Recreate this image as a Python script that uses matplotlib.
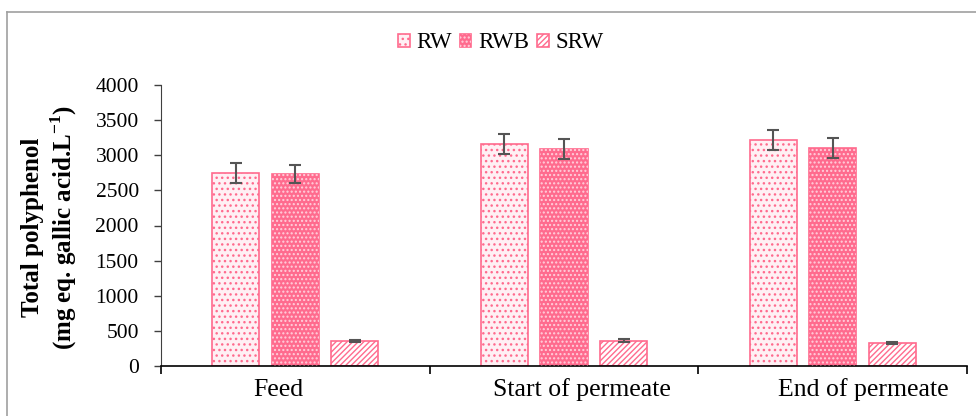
import matplotlib
matplotlib.use("Agg")
import matplotlib.pyplot as plt
import numpy as np
from matplotlib.lines import Line2D
from matplotlib.legend_handler import HandlerTuple

plt.rcParams['font.family'] = ['Liberation Serif', 'DejaVu Serif']
plt.rcParams['mathtext.fontset'] = 'custom'
plt.rcParams['mathtext.rm'] = 'Liberation Serif:bold'
plt.rcParams['mathtext.bf'] = 'Liberation Serif:bold'
plt.rcParams['hatch.linewidth'] = 1.0

categories = ["Feed", "Start of permeate", "End of permeate"]
series = ["RW", "RWB", "SRW"]
rw = [2752, 3160, 3220]
rw_err = [140, 140, 140]
rwb = [2735, 3090, 3100]
rwb_err = [130, 140, 140]
srw = [355, 360, 330]
srw_err = [20, 18, 15]
yticks = [0, 500, 1000, 1500, 2000, 2500, 3000, 3500, 4000]

pink = '#FF6B8E'
errc = '#555555'

fig = plt.figure(figsize=(9.76, 4.16), dpi=100)
ax = fig.add_axes([161/976, 50/416, 806/976, 281/416])

x = np.arange(len(categories)) + 0.5
step = 0.222
w = 0.175
ek = dict(ecolor=errc, elinewidth=1.5, capsize=4, capthick=1.5)

b1 = ax.bar(x - step, rw, w, facecolor='#FFF0F4', edgecolor=pink, hatch='...', linewidth=1.2,
            yerr=rw_err, error_kw=ek, zorder=2)
b2a = ax.bar(x, rwb, w, facecolor=pink, edgecolor=pink, linewidth=1.2, zorder=2)
b2b = ax.bar(x, rwb, w, facecolor='none', edgecolor='#FFD0DC', hatch='....', linewidth=0,
             yerr=rwb_err, error_kw=ek, zorder=3)
b3 = ax.bar(x + step, srw, w, facecolor='white', edgecolor=pink, hatch='//////', linewidth=1.2,
            yerr=srw_err, error_kw=ek, zorder=2)

ax.set_xlim(0, 3)
ax.set_ylim(0, 4000)
ax.set_yticks(yticks)
ax.set_yticklabels([str(v) for v in yticks])
ax.tick_params(axis='y', direction='out', length=5, width=1, pad=11, labelsize=15.5, colors='#404040',
               labelcolor='black')
ax.set_xticks([0, 1, 2, 3])
ax.set_xticklabels([])
label_pos = [0.5 - 17/268.7, 1.5 + 18/268.7, 2.5 + 31/268.7]
ax.set_xticks(label_pos, minor=True)
ax.set_xticklabels(categories, minor=True)
ax.tick_params(axis='x', which='major', direction='out', length=6, width=1.2)
ax.tick_params(axis='x', which='minor', length=0, pad=9, labelsize=18.5)
for s in ['top', 'right']:
    ax.spines[s].set_visible(False)
ax.spines['left'].set_color('#404040')
ax.spines['bottom'].set_color('black')
ax.spines['bottom'].set_linewidth(1.2)

fig.text(33/976, 1 - 227/416, "Total polyphenol", rotation=90, ha='center', va='center',
         fontsize=18, fontweight='bold')
fig.text(64/976, 1 - 228/416, r"(mg eq. gallic acid.L$^{-1}$)", rotation=90, ha='center', va='center',
         fontsize=18, fontweight='bold')

handles = [b1.patches[0], (b2a.patches[0], b2b.patches[0]), b3.patches[0]]
leg = fig.legend(handles, series, loc='center', bbox_to_anchor=(501/976, 1 - 43/416), ncol=3,
                 frameon=False, fontsize=16.5, handlelength=0.5, handleheight=0.5,
                 handletextpad=0.3, columnspacing=0.35,
                 handler_map={tuple: HandlerTuple(ndivide=1, pad=0)})

# outer frame lines
fig.add_artist(Line2D([7/976, 7/976], [0, 1 - 12/416], color='#A0A0A0', lw=1.2,
                      transform=fig.transFigure))
fig.add_artist(Line2D([7/976, 1], [1 - 12/416, 1 - 12/416], color='#A0A0A0', lw=1.2,
                      transform=fig.transFigure))

fig.savefig("out.png", dpi=100)
